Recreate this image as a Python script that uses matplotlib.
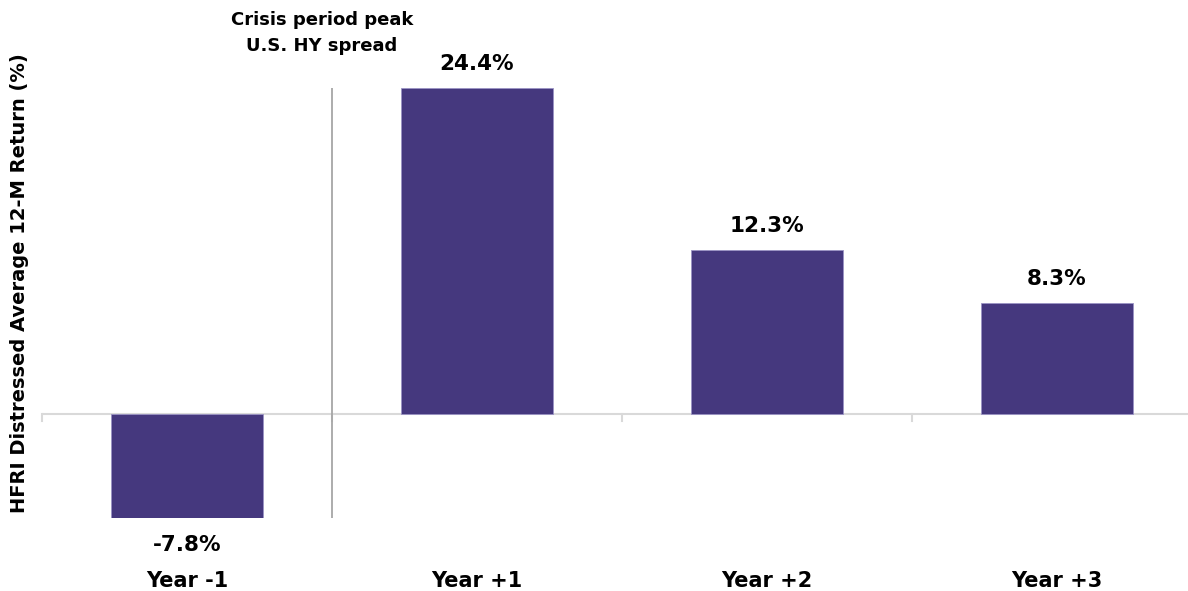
import matplotlib.pyplot as plt

# data
categories = ["Year -1", "Year +1", "Year +2", "Year +3"]
returns = [-7.8, 24.4, 12.3, 8.3]
value_labels = ["-7.8%", "24.4%", "12.3%", "8.3%"]

BAR_COLOR = "#45387e"
AXIS_GREY = "#d9d9d9"

W, H = 1188, 591
fig = plt.figure(figsize=(W / 100, H / 100), dpi=100)

# axes spans pixel x 42..1202 (runs off the right edge like the original)
left, right = 42, 1202
top, bottom = 88, 518
ax = fig.add_axes([left / W, 1 - bottom / H, (right - left) / W, (bottom - top) / H])

x = list(range(len(categories)))
ax.bar(x, returns, width=0.525, color=BAR_COLOR, edgecolor="#9b93c4", linewidth=0.6, zorder=2)
ax.set_xlim(-0.5, len(categories) - 0.5)
ax.set_ylim(min(returns), max(returns))

for s in ax.spines.values():
    s.set_visible(False)
ax.axhline(0, color=AXIS_GREY, linewidth=1.5, zorder=1)
ax.set_yticks([])

# category labels below the plot, boundary ticks on the zero line
ax.set_xticks(x)
ax.set_xticklabels(categories, fontsize=15, fontweight="bold")
ax.tick_params(axis="x", length=0, pad=38)
for b in [-0.5, 0.5, 1.5, 2.5]:
    ax.plot([b, b], [0, -0.5], color=AXIS_GREY, linewidth=1.5, clip_on=False, zorder=1)

# value labels
for xi, v, lab in zip(x, returns, value_labels):
    if v >= 0:
        ax.annotate(lab, (xi, v), xytext=(0, 10), textcoords="offset points",
                    ha="center", va="bottom", fontsize=15.5, fontweight="bold")
    else:
        ax.annotate(lab, (xi, v), xytext=(0, -12), textcoords="offset points",
                    ha="center", va="top", fontsize=15.5, fontweight="bold")

# crisis peak marker
ax.axvline(0.5, color="#a6a6a6", linewidth=1.3, zorder=3)
fig.text(322 / W, 1 - 33 / H, "Crisis period peak\nU.S. HY spread", ha="center", va="center",
         fontsize=13, fontweight="bold", linespacing=1.6)

fig.text(20 / W, 1 - 283 / H, "HFRI Distressed Average 12-M Return (%)", rotation=90,
         ha="center", va="center", fontsize=14, fontweight="bold")

fig.savefig("out.png", dpi=100)
